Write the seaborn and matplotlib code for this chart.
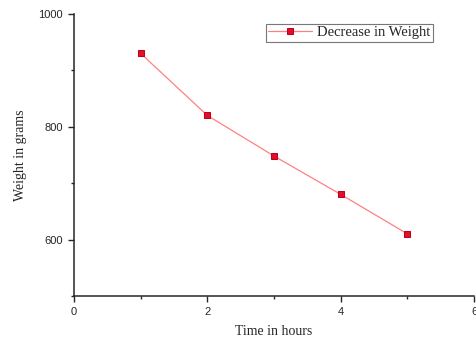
import numpy as np
import pandas as pd
import matplotlib
matplotlib.use("Agg")
import matplotlib.pyplot as plt
import seaborn as sns
from matplotlib.ticker import MultipleLocator

# data
hours = [1, 2, 3, 4, 5]
weight = [930, 820, 748, 680, 610]

df = pd.DataFrame({"Time in hours": hours, "Weight in grams": weight})

sns.set_style("ticks")
plt.rcParams['font.family'] = ['Liberation Serif', 'DejaVu Serif']

fig = plt.figure(figsize=(4.77, 3.39), dpi=100)
ax = fig.add_axes([0.155, 0.127, 0.839, 0.832])

sns.lineplot(data=df, x="Time in hours", y="Weight in grams", ax=ax,
             color="#ff8080", linewidth=0.9, marker="s", markersize=5,
             markerfacecolor="#e0102a", markeredgecolor="#c00020",
             label="Decrease in Weight")

ax.set_xlim(0, 6)
ax.set_ylim(500, 1000)
ax.xaxis.set_major_locator(MultipleLocator(2))
ax.xaxis.set_minor_locator(MultipleLocator(1))
ax.yaxis.set_major_locator(MultipleLocator(200))
ax.yaxis.set_minor_locator(MultipleLocator(100))
ax.set_yticks([600, 800, 1000])
ax.tick_params(axis='both', which='major', labelsize=8, length=4, width=1.0, pad=4)
ax.tick_params(axis='both', which='minor', length=2.5, width=1.0)
for lab in ax.get_xticklabels() + ax.get_yticklabels():
    lab.set_family(['Liberation Sans', 'DejaVu Sans'])
for s in ax.spines.values():
    s.set_linewidth(1.1)
ax.set_xlabel("Time in hours", fontsize=10, labelpad=6)
ax.set_ylabel("Weight in grams", fontsize=10, labelpad=8)
sns.despine(ax=ax)

leg = ax.legend(loc="upper right", bbox_to_anchor=(0.915, 0.99), fontsize=10.5,
                frameon=True, fancybox=False, edgecolor="#555555",
                borderpad=0.15, handlelength=3, handletextpad=0.4)
leg.get_frame().set_linewidth(0.8)

fig.savefig("out.png", dpi=100)
